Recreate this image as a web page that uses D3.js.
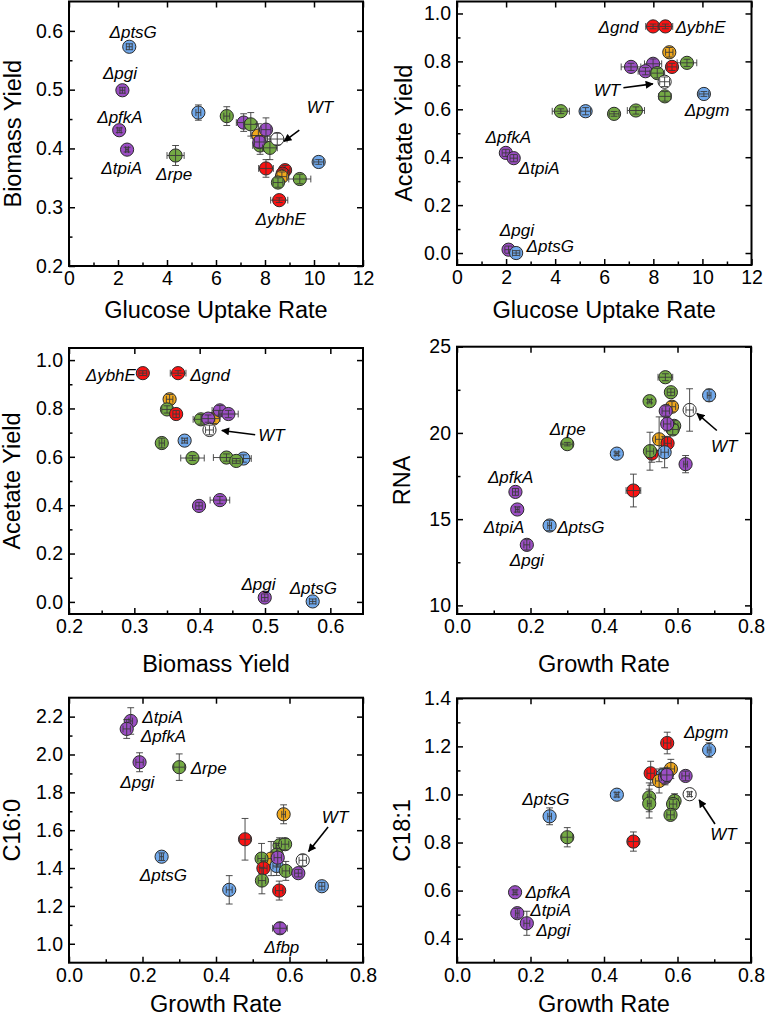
<!DOCTYPE html>
<html><head><meta charset="utf-8">
<script src="https://cdn.jsdelivr.net/npm/d3@7"></script>
<style>
html,body{margin:0;padding:0;background:#fff;}
svg{display:block;}
text{font-family:Arial,"Liberation Sans",sans-serif;fill:#000;}
</style></head>
<body>
<svg id="chart" width="765" height="1020"></svg>
<script>
// ---------- DATA ----------
// group colours
const groupNames = ["b","p","g","o","r","w"];
const groupColors = ["#71a9ec","#9b4ec4","#74aa44","#f0a81c","#fb1212","#ffffff"];

// each point: [x, y, group, xErr, yErr]
// Panel A: Glucose uptake rate vs Biomass yield
const ptsA = [
 [2.46,0.573,"b",0.12,0.005],[2.18,0.499,"p",0.10,0.005],[2.05,0.431,"p",0.08,0.004],
 [2.37,0.398,"p",0.06,0.004],[4.35,0.388,"g",0.35,0.017],[5.28,0.461,"b",0.10,0.013],
 [6.44,0.455,"g",0.12,0.016],[7.13,0.444,"p",0.30,0.015],[7.42,0.441,"g",0.25,0.020],
 [7.80,0.405,"g",0.30,0.015],[7.73,0.422,"o",0.30,0.020],[8.04,0.432,"p",0.20,0.020],
 [7.77,0.411,"p",0.20,0.010],[8.20,0.401,"g",0.30,0.020],[8.50,0.416,"w",0.40,0.010],
 [10.19,0.377,"b",0.20,0.004],[8.04,0.366,"r",0.30,0.015],[8.82,0.363,"r",0.20,0.008],
 [8.72,0.357,"r",0.20,0.008],[8.69,0.352,"o",0.20,0.008],[8.53,0.342,"g",0.20,0.008],
 [9.42,0.348,"g",0.45,0.008],[8.58,0.312,"r",0.35,0.004]
];
// Panel B: Glucose uptake rate vs Acetate yield
const ptsB = [
 [7.99,0.946,"r",0.30,0.010],[8.49,0.946,"r",0.30,0.010],[8.65,0.838,"o",0.15,0.020],
 [9.37,0.794,"g",0.40,0.015],[7.09,0.777,"p",0.40,0.015],[7.99,0.790,"p",0.35,0.020],
 [7.68,0.759,"p",0.30,0.015],[8.16,0.751,"g",0.30,0.020],[8.76,0.777,"r",0.20,0.015],
 [8.46,0.715,"w",0.20,0.020],[8.47,0.654,"g",0.25,0.020],[10.06,0.664,"b",0.20,0.010],
 [4.23,0.592,"g",0.35,0.010],[5.24,0.592,"b",0.20,0.015],[6.40,0.581,"g",0.20,0.010],
 [7.29,0.595,"g",0.35,0.015],[1.99,0.418,"p",0.15,0.015],[2.31,0.396,"p",0.15,0.015],
 [2.10,0.014,"p",0.15,0.015],[2.41,0.000,"b",0.15,0.010]
];
// Panel C: Biomass yield vs Acetate yield
const ptsC = [
 [0.313,0.946,"r",0.006,0.010],[0.367,0.946,"r",0.012,0.010],[0.354,0.838,"o",0.005,0.020],
 [0.350,0.796,"g",0.008,0.015],[0.364,0.777,"r",0.005,0.015],[0.402,0.755,"g",0.012,0.020],
 [0.421,0.758,"o",0.010,0.020],[0.413,0.758,"p",0.010,0.015],[0.431,0.792,"p",0.012,0.020],
 [0.444,0.777,"p",0.015,0.015],[0.415,0.711,"w",0.006,0.020],[0.342,0.657,"g",0.004,0.020],
 [0.377,0.667,"b",0.004,0.010],[0.389,0.595,"g",0.018,0.010],[0.441,0.597,"g",0.020,0.015],
 [0.467,0.593,"b",0.012,0.015],[0.456,0.583,"g",0.006,0.010],[0.399,0.397,"p",0.005,0.015],
 [0.431,0.421,"p",0.015,0.015],[0.4996,0.018,"p",0.005,0.015],[0.573,0.002,"b",0.005,0.010]
];
// Panel D: Growth rate vs RNA
const ptsD = [
 [0.567,23.23,"g",0.020,0.20],[0.582,22.36,"g",0.010,0.20],[0.686,22.18,"b",0.005,0.35],
 [0.524,21.84,"g",0.005,0.10],[0.585,21.52,"o",0.010,0.30],[0.633,21.33,"w",0.010,1.23],
 [0.568,21.27,"p",0.010,0.30],[0.591,20.41,"g",0.010,0.30],[0.587,20.20,"g",0.015,0.30],
 [0.572,20.52,"p",0.010,0.40],[0.550,19.63,"o",0.010,1.30],[0.573,19.40,"r",0.010,0.40],
 [0.300,19.35,"g",0.015,0.10],[0.435,18.80,"b",0.005,0.10],[0.530,18.80,"r",0.010,0.50],
 [0.525,18.94,"g",0.010,1.10],[0.565,18.88,"b",0.010,0.90],[0.622,18.19,"p",0.005,0.50],
 [0.480,16.66,"r",0.020,0.95],[0.159,16.58,"p",0.008,0.20],[0.164,15.56,"p",0.005,0.15],
 [0.252,14.63,"b",0.005,0.30],[0.190,13.51,"p",0.008,0.30]
];
// Panel E: Growth rate vs C16:0
const ptsE = [
 [0.168,2.177,"p",0.005,0.07],[0.157,2.135,"p",0.010,0.05],[0.192,1.959,"p",0.010,0.05],
 [0.300,1.933,"g",0.015,0.07],[0.584,1.684,"o",0.005,0.05],[0.479,1.552,"r",0.015,0.11],
 [0.573,1.520,"g",0.010,0.04],[0.588,1.526,"g",0.010,0.03],[0.565,1.470,"g",0.010,0.06],
 [0.636,1.441,"w",0.010,0.03],[0.550,1.450,"o",0.010,0.09],[0.524,1.450,"g",0.010,0.08],
 [0.529,1.399,"r",0.010,0.04],[0.565,1.411,"b",0.010,0.05],[0.568,1.455,"p",0.010,0.05],
 [0.590,1.385,"g",0.010,0.05],[0.624,1.373,"p",0.010,0.02],[0.525,1.334,"g",0.010,0.07],
 [0.436,1.285,"b",0.008,0.075],[0.572,1.281,"r",0.010,0.05],[0.688,1.304,"b",0.008,0.02],
 [0.574,1.082,"p",0.020,0.03],[0.252,1.460,"b",0.005,0.02]
];
// Panel F: Growth rate vs C18:1
const ptsF = [
 [0.572,1.214,"r",0.010,0.045],[0.686,1.185,"b",0.005,0.03],[0.582,1.106,"o",0.010,0.04],
 [0.527,1.088,"r",0.010,0.05],[0.560,1.080,"b",0.010,0.03],[0.550,1.056,"o",0.010,0.05],
 [0.566,1.070,"p",0.010,0.03],[0.571,1.081,"p",0.015,0.03],[0.622,1.077,"p",0.010,0.02],
 [0.435,0.999,"b",0.005,0.01],[0.633,1.001,"w",0.005,0.01],[0.523,0.988,"g",0.005,0.06],
 [0.523,0.962,"g",0.005,0.06],[0.592,0.973,"g",0.010,0.03],[0.588,0.960,"g",0.010,0.02],
 [0.581,0.915,"g",0.010,0.02],[0.252,0.909,"b",0.005,0.035],[0.300,0.822,"g",0.015,0.04],
 [0.480,0.804,"r",0.015,0.04],[0.158,0.593,"p",0.005,0.01],[0.164,0.506,"p",0.005,0.02],
 [0.190,0.464,"p",0.008,0.05]
];

// labels: [text, x, y] in data units (centre of text)
const labA = [["\u0394ptsG",2.62,0.598],["\u0394pgi",2.08,0.529],["\u0394pfkA",2.08,0.453],
 ["\u0394tpiA",2.15,0.367],["\u0394rpe",4.29,0.356],["\u0394ybhE",8.64,0.281],["WT",10.24,0.470]];
const labB = [["\u0394gnd",6.58,0.946],["\u0394ybhE",9.92,0.946],["\u0394pfkA",2.09,0.483],
 ["\u0394tpiA",3.35,0.354],["\u0394pgi",2.44,0.098],["\u0394ptsG",3.80,0.029],
 ["\u0394pgm",10.19,0.599],["WT",6.11,0.682]];
const labC = [["\u0394ybhE",0.264,0.937],["\u0394gnd",0.416,0.937],["WT",0.510,0.689],
 ["\u0394pgi",0.490,0.073],["\u0394ptsG",0.574,0.060]];
const labD = [["\u0394rpe",0.301,20.21],["\u0394pfkA",0.146,17.43],["\u0394tpiA",0.128,14.57],
 ["\u0394ptsG",0.337,14.57],["\u0394pgi",0.190,12.64],["WT",0.727,19.25]];
const labE = [["\u0394tpiA",0.255,2.198],["\u0394pfkA",0.257,2.096],["\u0394pgi",0.186,1.853],
 ["\u0394rpe",0.380,1.927],["\u0394ptsG",0.257,1.364],["\u0394fbp",0.579,0.985],["WT",0.724,1.672]];
const labF = [["\u0394pgm",0.678,1.261],["\u0394ptsG",0.242,0.981],["\u0394pfkA",0.248,0.593],
 ["\u0394tpiA",0.255,0.519],["\u0394pgi",0.262,0.436],["WT",0.725,0.834]];

// WT arrows: [x1,y1,x2,y2] in data units (tail -> head)
const arrA = [9.40,0.431,8.78,0.412];
const arrB = [6.78,0.690,7.98,0.706];
const arrC = [0.485,0.691,0.434,0.709];
const arrD = [0.707,20.14,0.653,21.13];
const arrE = [0.705,1.617,0.652,1.488];
const arrF = [0.702,0.877,0.659,0.977];

// axes: domains and ticks
const xTitles = ["Glucose Uptake Rate","Glucose Uptake Rate","Biomass Yield","Growth Rate","Growth Rate","Growth Rate"];
const yTitles = ["Biomass Yield","Acetate Yield","Acetate Yield","RNA","C16:0","C18:1"];
const xDomains = [[0,12],[0,12],[0.2,0.65],[0,0.8],[0,0.8],[0,0.8]];
const yDomains = [[0.2,0.65],[-0.05,1.05],[-0.05,1.05],[9.5,25],[0.9,2.3],[0.3,1.4]];
const xMajor = [[0,2,4,6,8,10,12],[0,2,4,6,8,10,12],[0.2,0.3,0.4,0.5,0.6],[0,0.2,0.4,0.6,0.8],[0,0.2,0.4,0.6,0.8],[0,0.2,0.4,0.6,0.8]];
const xMinor = [[1,3,5,7,9,11],[1,3,5,7,9,11],[0.25,0.35,0.45,0.55],[0.1,0.3,0.5,0.7],[0.1,0.3,0.5,0.7],[0.1,0.3,0.5,0.7]];
const yMajor = [[0.2,0.3,0.4,0.5,0.6],[0,0.2,0.4,0.6,0.8,1.0],[0,0.2,0.4,0.6,0.8,1.0],[10,15,20,25],[1.0,1.2,1.4,1.6,1.8,2.0,2.2],[0.4,0.6,0.8,1.0,1.2,1.4]];
const yMinor = [[0.25,0.35,0.45,0.55],[0.1,0.3,0.5,0.7,0.9],[0.1,0.3,0.5,0.7,0.9],[12.5,17.5,22.5],[1.1,1.3,1.5,1.7,1.9,2.1],[0.5,0.7,0.9,1.1,1.3]];
const xFormats = [".0f",".0f",".1f",".1f",".1f",".1f"];
const yFormats = [".1f",".1f",".1f",".0f",".1f",".1f"];

// ---------- LAYOUT ----------
const frames = [
 {l:69, r:363, t:1.5, b:266, xt:318, yt:21},
 {l:457,r:751.5,t:1.5, b:265, xt:318, yt:412},
 {l:69, r:363, t:348, b:614, xt:672, yt:20},
 {l:457,r:751, t:346.7,b:614, xt:672, yt:410},
 {l:69, r:363, t:697.7,b:962.7,xt:1012, yt:20},
 {l:457,r:751, t:698.3,b:962.7,xt:1012, yt:410}
];
const panels = [ptsA,ptsB,ptsC,ptsD,ptsE,ptsF];
const labels = [labA,labB,labC,labD,labE,labF];
const arrows = [arrA,arrB,arrC,arrD,arrE,arrF];

const svg = d3.select("#chart");
const colorScale = d3.scaleOrdinal().domain(groupNames).range(groupColors);

svg.append("defs").append("marker")
  .attr("id","ah").attr("viewBox","0 0 10 10").attr("refX",9).attr("refY",5)
  .attr("markerWidth",10).attr("markerHeight",8).attr("markerUnits","userSpaceOnUse")
  .attr("orient","auto")
  .append("path").attr("d","M0,0L10,5L0,10Z").attr("fill","#000");

const R = 6.6, CAP = 3.4;

panels.forEach((pts,i)=>{
  const f = frames[i];
  const x = d3.scaleLinear().domain(xDomains[i]).range([f.l,f.r]);
  const y = d3.scaleLinear().domain(yDomains[i]).range([f.b,f.t]);
  const g = svg.append("g");
  const h = f.b - f.t, w = f.r - f.l;

  // axes: bottom & left with minor ticks, top & right major only
  const fx = d3.format(xFormats[i]), fy = d3.format(yFormats[i]);
  g.append("g").attr("transform",`translate(0,${f.b})`)
    .call(d3.axisBottom(x).tickValues(xMajor[i]).tickSize(-6).tickPadding(5).tickFormat(fx));
  g.append("g").attr("transform",`translate(0,${f.b})`)
    .call(d3.axisBottom(x).tickValues(xMinor[i]).tickSize(-3.5).tickFormat(""));
  g.append("g").attr("transform",`translate(${f.l},0)`)
    .call(d3.axisLeft(y).tickValues(yMajor[i]).tickSize(-6).tickPadding(6).tickFormat(fy));
  g.append("g").attr("transform",`translate(${f.l},0)`)
    .call(d3.axisLeft(y).tickValues(yMinor[i]).tickSize(-3.5).tickFormat(""));
  g.append("g").attr("transform",`translate(0,${f.t})`)
    .call(d3.axisTop(x).tickValues(xMajor[i]).tickSize(-6).tickFormat(""));
  g.append("g").attr("transform",`translate(${f.r},0)`)
    .call(d3.axisRight(y).tickValues(yMajor[i]).tickSize(-6).tickFormat(""));
  g.selectAll(".domain").remove();
  g.selectAll(".tick line").attr("stroke","#000").attr("stroke-width",1.5);
  g.selectAll(".tick text").attr("font-size",19.5).attr("font-family","Arial, 'Liberation Sans', sans-serif").attr("fill","#000");

  g.append("rect").attr("x",f.l).attr("y",f.t).attr("width",w).attr("height",h)
    .attr("fill","none").attr("stroke","#000").attr("stroke-width",2);

  // titles
  g.append("text").attr("x",(f.l+f.r)/2).attr("y",f.xt).attr("text-anchor","middle")
    .attr("font-size",23.5).text(xTitles[i]);
  g.append("text").attr("transform",`translate(${f.yt},${(f.t+f.b)/2}) rotate(-90)`)
    .attr("text-anchor","middle").attr("font-size",23.5).text(yTitles[i]);

  // points
  const pg = g.append("g");
  pts.forEach(d=>{
    const cx = x(d[0]), cy = y(d[1]);
    pg.append("circle").attr("cx",cx).attr("cy",cy).attr("r",R)
      .attr("fill",colorScale(d[2])).attr("stroke","#2a2a2a").attr("stroke-width",1);
    const xl = x(d[0]-d[3]), xr = x(d[0]+d[3]);
    const yt = y(d[1]+d[4]), yb = y(d[1]-d[4]);
    const eb = pg.append("g").attr("stroke","#3a3a3a").attr("stroke-width",0.9).attr("fill","none");
    eb.append("line").attr("x1",xl).attr("x2",xr).attr("y1",cy).attr("y2",cy);
    eb.append("line").attr("x1",xl).attr("x2",xl).attr("y1",cy-CAP).attr("y2",cy+CAP);
    eb.append("line").attr("x1",xr).attr("x2",xr).attr("y1",cy-CAP).attr("y2",cy+CAP);
    eb.append("line").attr("x1",cx).attr("x2",cx).attr("y1",yt).attr("y2",yb);
    eb.append("line").attr("x1",cx-CAP).attr("x2",cx+CAP).attr("y1",yt).attr("y2",yt);
    eb.append("line").attr("x1",cx-CAP).attr("x2",cx+CAP).attr("y1",yb).attr("y2",yb);
  });

  // labels
  labels[i].forEach(l=>{
    g.append("text").attr("x",x(l[1])).attr("y",y(l[2])).attr("dy","0.36em")
      .attr("text-anchor","middle").attr("font-size",17).attr("font-style","italic").text(l[0]);
  });
  // arrow
  const a = arrows[i];
  g.append("line").attr("x1",x(a[0])).attr("y1",y(a[1])).attr("x2",x(a[2])).attr("y2",y(a[3]))
    .attr("stroke","#000").attr("stroke-width",1.6).attr("marker-end","url(#ah)");
});
</script>
</body></html>
